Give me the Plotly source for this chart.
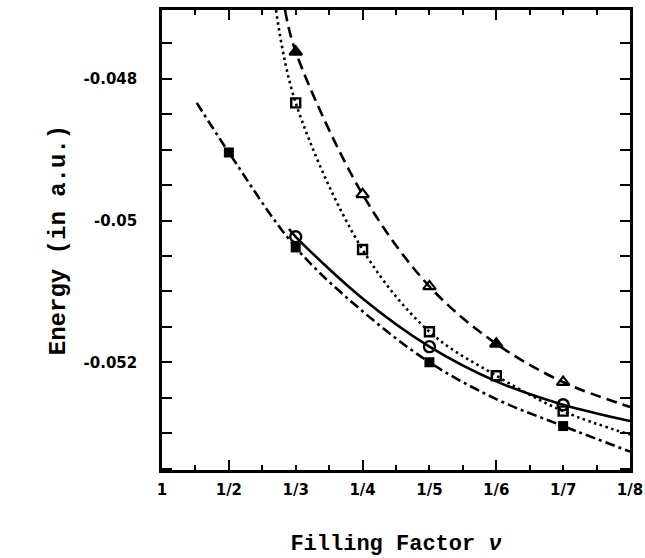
import plotly.graph_objects as go

# x positions: filling factor 1/n drawn at position n
tick_pos = [1, 2, 3, 4, 5, 6, 7, 8]
tick_text = ["1", "1/2", "1/3", "1/4", "1/5", "1/6", "1/7", "1/8"]

# curves
dash_x = [2.84, 3.0, 4, 5, 6, 7, 8]
dash_y = [-0.04703, -0.04762, -0.04963, -0.05093, -0.05174, -0.05228, -0.05263]

dot_x = [2.705, 3.0, 4, 5, 6, 7, 8]
dot_y = [-0.04703, -0.04834, -0.05041, -0.05157, -0.05219, -0.05269, -0.05302]

solid_x = [2.9, 3.0, 4, 5, 6, 7, 8]
solid_y = [-0.05012, -0.05023, -0.05110, -0.05178, -0.05227, -0.05260, -0.05283]

dd_x = [1.52, 2, 3, 4, 5, 6, 7, 8]
dd_y = [-0.04834, -0.04904, -0.05038, -0.05128, -0.05200, -0.05252, -0.05290, -0.05326]

# data points
tri_x = [3, 4, 5, 6, 7]
tri_y = [-0.04762, -0.04963, -0.05093, -0.05174, -0.05228]
tri_sym = ["triangle-up", "triangle-up-open", "triangle-up-open", "triangle-up", "triangle-up-open"]

osq_x = [3, 4, 5, 6, 7]
osq_y = [-0.04834, -0.05041, -0.05157, -0.05219, -0.05269]

circ_x = [3, 5, 7]
circ_y = [-0.05023, -0.05178, -0.05260]

fsq_x = [2, 3, 5, 7]
fsq_y = [-0.04904, -0.05038, -0.05200, -0.05290]

y_ticks = [-0.048, -0.05, -0.052]
y_text = ["-0.048", "-0.05", "-0.052"]

fig = go.Figure()
lw = 2.6
fig.add_trace(go.Scatter(x=dash_x, y=dash_y, mode="lines", line=dict(color="black", width=lw, dash="11px,6px", shape="spline", smoothing=1.0)))
fig.add_trace(go.Scatter(x=dot_x, y=dot_y, mode="lines", line=dict(color="black", width=lw, dash="2.5px,3.5px", shape="spline", smoothing=1.0)))
fig.add_trace(go.Scatter(x=solid_x, y=solid_y, mode="lines", line=dict(color="black", width=lw, shape="spline", smoothing=1.0)))
fig.add_trace(go.Scatter(x=dd_x, y=dd_y, mode="lines", line=dict(color="black", width=lw, dash="10px,4px,3px,4px", shape="spline", smoothing=1.0)))

fig.add_trace(go.Scatter(x=tri_x, y=tri_y, mode="markers",
                         marker=dict(symbol=tri_sym, size=11, color="black", line=dict(color="black", width=2.2))))
fig.add_trace(go.Scatter(x=osq_x, y=osq_y, mode="markers",
                         marker=dict(symbol="square-open", size=9, color="black", line=dict(color="black", width=2.4))))
fig.add_trace(go.Scatter(x=circ_x, y=circ_y, mode="markers",
                         marker=dict(symbol="circle-open", size=11, color="black", line=dict(color="black", width=2.4))))
fig.add_trace(go.Scatter(x=fsq_x, y=fsq_y, mode="markers",
                         marker=dict(symbol="square", size=10, color="black")))

# helper trace on overlay axis for long ticks
fig.add_trace(go.Scatter(x=[1, 8], y=[-0.05352, -0.05352], xaxis="x2", mode="lines",
                         line=dict(width=0), hoverinfo="skip", showlegend=False))

tick_font = dict(family="DejaVu Sans", size=15, color="black", weight="bold")

fig.update_layout(
    width=645, height=558,
    paper_bgcolor="white", plot_bgcolor="white",
    showlegend=False,
    margin=dict(l=162, r=15, t=10, b=88, autoexpand=False),
    xaxis=dict(range=[1, 8], tickvals=tick_pos, ticktext=tick_text,
               ticks="inside", ticklen=5, tickwidth=2, tickcolor="black",
               minor=dict(dtick=0.5, tick0=0, ticks="inside", ticklen=5, tickwidth=2, tickcolor="black"),
               showline=True, linecolor="black", linewidth=2.6, mirror="allticks",
               showgrid=False, zeroline=False, ticklabelstandoff=4, automargin=False,
               tickfont=tick_font,
               title=dict(text="Filling Factor <i>ν</i>", standoff=37,
                          font=dict(family="Liberation Mono", size=22, color="black", weight="bold"))),
    xaxis2=dict(range=[1, 8], overlaying="x", side="bottom", tickvals=[2, 4, 6],
                showticklabels=False, ticks="inside", ticklen=10, tickwidth=2, tickcolor="black",
                mirror="allticks", showline=False, showgrid=False, zeroline=False, automargin=False),
    yaxis=dict(range=[-0.05352, -0.04703], tickvals=y_ticks, ticktext=y_text,
               ticks="inside", ticklen=10, tickwidth=2, tickcolor="black",
               minor=dict(dtick=0.0005, tick0=0, ticks="inside", ticklen=6, tickwidth=2, tickcolor="black"),
               showline=True, linecolor="black", linewidth=2.6, mirror="allticks",
               showgrid=False, zeroline=False, ticklabelstandoff=19, automargin=False,
               tickfont=tick_font,
               title=dict(text="Energy (in a.u.)", standoff=12,
                          font=dict(family="Liberation Mono", size=24, color="black", weight="bold"))),
)

fig.write_html("out.html", config={"displayModeBar": False},
               post_script="document.body.style.margin='0';")
